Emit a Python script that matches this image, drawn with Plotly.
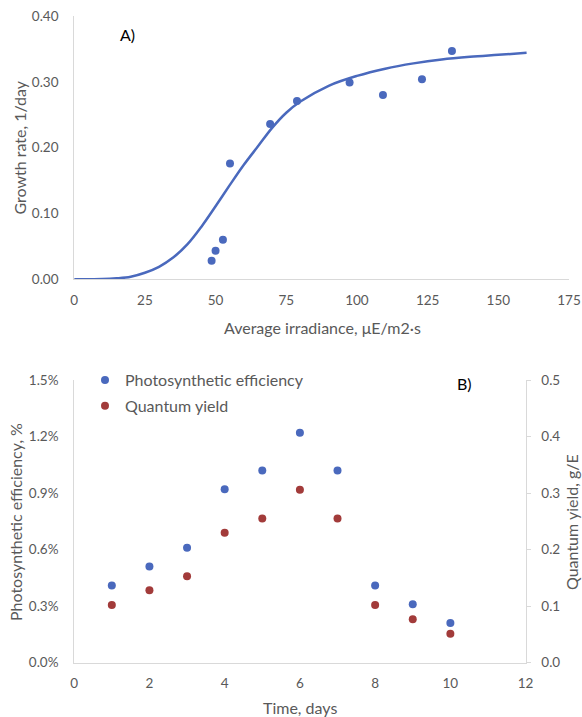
import plotly.graph_objects as go

# ---- Panel A data ----
irradiance = [48.6, 50.0, 52.6, 55.1, 69.3, 78.8, 97.4, 109.2, 123.0, 133.6]
growth_rate = [0.028, 0.0435, 0.060, 0.176, 0.236, 0.271, 0.299, 0.280, 0.304, 0.347]

fit_x = [0, 10, 15, 20, 25, 30, 35, 40, 45, 50, 55, 60, 65, 70, 75, 80, 90, 100,
         110, 120, 130, 140, 150, 160]
fit_y = [0, 0.0003, 0.0015, 0.004, 0.010, 0.019, 0.033, 0.053, 0.080, 0.111, 0.143,
         0.174, 0.202, 0.230, 0.253, 0.270, 0.294, 0.309, 0.320, 0.328, 0.334, 0.338,
         0.341, 0.344]

# ---- Panel B data ----
days = [1, 2, 3, 4, 5, 6, 7, 8, 9, 10]
photo_eff = [0.0041, 0.0051, 0.0061, 0.0092, 0.0102, 0.0122, 0.0102, 0.0041, 0.0031, 0.0021]
quantum_yield = [0.102, 0.128, 0.153, 0.230, 0.255, 0.306, 0.255, 0.102, 0.077, 0.051]

W, H = 582, 717
BLUE = "#4A69BD"
RED = "#A23B3A"
GRAY = "#595959"
LINE = "#D9D9D9"
FONT = "Lato"


def px(x):
    return x / W


def py(y):
    return 1 - y / H


fig = go.Figure()

fig.add_trace(go.Scatter(x=fit_x, y=fit_y, mode="lines", line=dict(color=BLUE, width=2.5, shape="spline"),
                         showlegend=False, xaxis="x", yaxis="y"))
fig.add_trace(go.Scatter(x=irradiance, y=growth_rate, mode="markers", marker=dict(color=BLUE, size=8),
                         showlegend=False, xaxis="x", yaxis="y"))

fig.add_trace(go.Scatter(x=days, y=photo_eff, mode="markers", name="Photosynthetic efficiency",
                         marker=dict(color=BLUE, size=8), xaxis="x2", yaxis="y2", legendgroup="a"))
fig.add_trace(go.Scatter(x=days, y=quantum_yield, mode="markers", name="Quantum yield",
                         marker=dict(color=RED, size=8), xaxis="x2", yaxis="y3", legendgroup="b"))

axis_common = dict(showgrid=False, zeroline=False, showline=True, linecolor=LINE, linewidth=1,
                   tickfont=dict(family=FONT, size=13.5, color=GRAY), ticks="", automargin=False)

fig.update_layout(
    width=W, height=H, autosize=False,
    margin=dict(l=0, r=0, t=0, b=0),
    paper_bgcolor="white", plot_bgcolor="white",
    font=dict(family=FONT, color=GRAY),
    xaxis=dict(domain=[px(74.2), px(569)], range=[0, 175], dtick=25, anchor="y",
               ticklabelstandoff=8, **axis_common),
    yaxis=dict(domain=[py(279.3), py(16)], range=[0, 0.40], dtick=0.1, tickformat=".2f", anchor="x",
               ticklabelstandoff=12, **axis_common),
    xaxis2=dict(domain=[px(74.2), px(525.6)], range=[0, 12], dtick=2, anchor="y2",
                ticklabelstandoff=8, **axis_common),
    yaxis2=dict(domain=[py(662.7), py(380)], range=[0, 0.015], dtick=0.003, tickformat=".1%",
                anchor="x2", ticklabelstandoff=12, **axis_common),
    yaxis3=dict(range=[0, 0.5], dtick=0.1, tickformat=".1f", overlaying="y2", side="right", anchor="x2",
                showgrid=False, zeroline=False, showline=True, linecolor=LINE, linewidth=1,
                ticks="outside", ticklen=4, tickcolor=LINE, automargin=False,
                tickfont=dict(family=FONT, size=13.5, color=GRAY), ticklabelstandoff=8),
    legend=dict(x=px(85), y=py(363), xanchor="left", yanchor="top",
                font=dict(family=FONT, size=16, color=GRAY), bgcolor="rgba(0,0,0,0)",
                tracegroupgap=2, itemsizing="trace"),
    showlegend=True,
)

ann = [
    dict(text="A)", x=px(127), y=py(35), font=dict(family=FONT, size=16, color="black")),
    dict(text="B)", x=px(464), y=py(383), font=dict(family=FONT, size=16, color="black")),
    dict(text="Growth rate, 1/day", x=px(18.6), y=py(148), textangle=-90,
         font=dict(family=FONT, size=16, color=GRAY)),
    dict(text="Average irradiance, μE/m2·s", x=px(322), y=py(327),
         font=dict(family=FONT, size=16, color=GRAY)),
    dict(text="Time, days", x=px(300), y=py(707),
         font=dict(family=FONT, size=16, color=GRAY)),
    dict(text="Photosynthetic efficiency, %", x=px(15), y=py(522), textangle=-90,
         font=dict(family=FONT, size=16, color=GRAY)),
    dict(text="Quantum yield, g/E", x=px(571), y=py(522), textangle=-90,
         font=dict(family=FONT, size=16, color=GRAY)),
]
for a in ann:
    a.update(xref="paper", yref="paper", showarrow=False, xanchor="center", yanchor="middle")
fig.update_layout(annotations=ann)

fig.write_html(
    "out.html",
    config={"displayModeBar": False},
    post_script="document.body.style.margin='0';document.body.style.overflow='hidden';",
)
